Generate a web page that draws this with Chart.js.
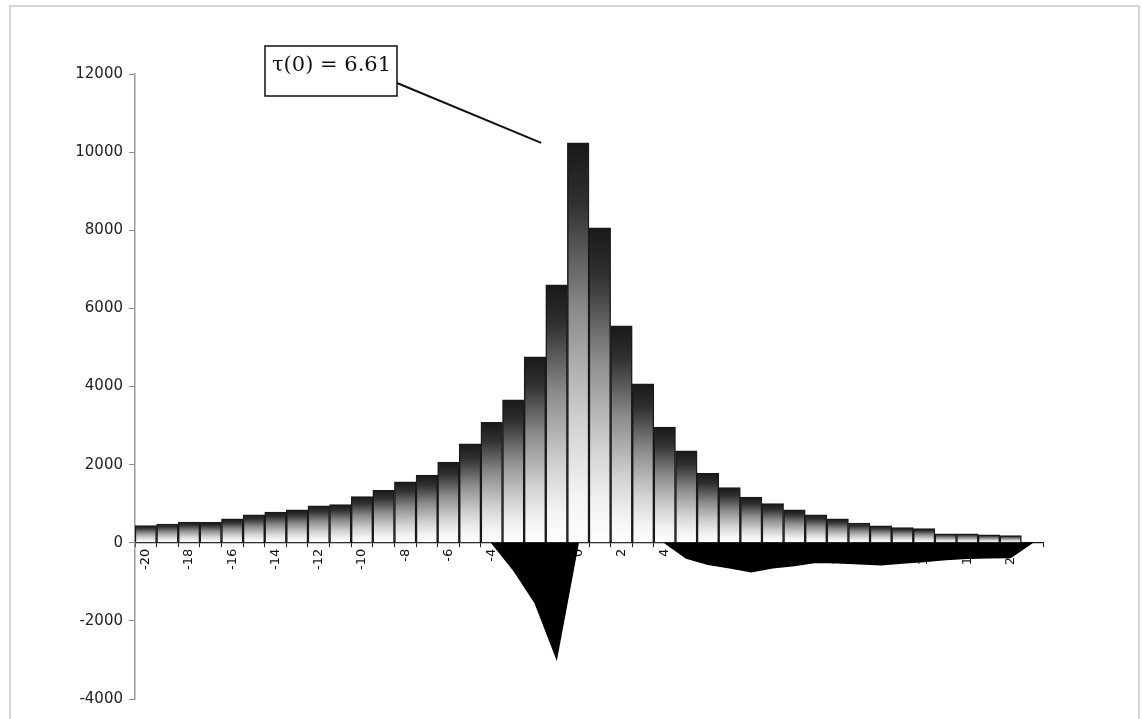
<!DOCTYPE html>
<html>
<head>
<meta charset="utf-8">
<script src="https://cdn.jsdelivr.net/npm/chart.js@4/dist/chart.umd.min.js"></script>
<style>
    body { margin: 0; background: #fff; }
    #frame {
        position: absolute; left: 9px; top: 5px; width: 1127px; height: 730px;
        border-left: 2px solid #d4d4d4; border-top: 2px solid #d4d4d4; border-right: 2px solid #d4d4d4;
    }
    #chart { position: absolute; left: 0; top: 0; }
</style>
</head>
<body>
<div id="frame"></div>
<canvas id="chart" width="1142" height="719"></canvas>
<script>
// Категории (лаг) от -20 до 21
const categories = ['-20','-19','-18','-17','-16','-15','-14','-13','-12','-11','-10','-9','-8','-7','-6','-5','-4','-3','-2','-1',
    '0','1','2','3','4','5','6','7','8','9','10','11','12','13','14','15','16','17','18','19','20','21'];

// Столбцы
const barValues = [440, 480, 530, 520, 610, 715, 785, 840, 945, 980, 1185, 1340, 1560, 1730, 2065, 2530, 3080, 3660, 4760, 6600,
    10235, 8060, 5550, 4070, 2960, 2355, 1775, 1415, 1170, 1000, 845, 715, 615, 505, 435, 390, 360, 230, 230, 205, 185, null];

// Отрицательная область
const areaValues = [null, null, null, null, null, null, null, null, null, null, null, null, null, null, null, null, 0, -690, -1530, -2960,
    0, null, null, null, 0, -390, -550, -640, -740, -640, -580, -500, -510, -540, -560, -520, -480, -430, -400, -385, -380, 0];

const yTicks = [-4000, -2000, 0, 2000, 4000, 6000, 8000, 10000, 12000];

const annotationText = 'τ(0) = 6.61';
const peakIndex = categories.indexOf('0');

// Градиент для каждого столбца
function barGradient(context) {
    const chart = context.chart;
    const y = chart.scales.y;
    if (!chart.chartArea || !y || context.raw == null) return '#888';
    const top = y.getPixelForValue(context.raw);
    const base = y.getPixelForValue(0);
    if (!isFinite(top) || !isFinite(base) || top === base) return '#888';
    const g = chart.ctx.createLinearGradient(0, top, 0, base);
    g.addColorStop(0, '#181818');
    g.addColorStop(0.15, '#303030');
    g.addColorStop(0.42, '#8c8c8c');
    g.addColorStop(0.7, '#d2d2d2');
    g.addColorStop(0.88, '#f3f3f3');
    g.addColorStop(1, '#ffffff');
    return g;
}

const calloutPlugin = {
    id: 'callout',
    afterDraw(chart) {
        const c = chart.ctx;
        const area = chart.chartArea;
        const x = chart.scales.x, y = chart.scales.y;
        const boxLeft = area.left + 130, boxTop = area.top - 28, boxW = 132, boxH = 50;
        const endX = x.getPixelForValue(peakIndex) - 37;
        const endY = y.getPixelForValue(barValues[peakIndex]);
        c.save();
        c.strokeStyle = '#111';
        c.lineWidth = 2;
        c.beginPath();
        c.moveTo(boxLeft + boxW, boxTop + 37);
        c.lineTo(endX, endY);
        c.stroke();
        c.fillStyle = '#fff';
        c.fillRect(boxLeft, boxTop, boxW, boxH);
        c.lineWidth = 1.5;
        c.strokeRect(boxLeft, boxTop, boxW, boxH);
        c.fillStyle = '#111';
        c.font = '21px "DejaVu Serif"';
        c.textBaseline = 'middle';
        c.fillText(annotationText, boxLeft + 7, boxTop + 20);
        c.restore();
    }
};

new Chart(document.getElementById('chart').getContext('2d'), {
    type: 'bar',
    data: {
        labels: categories,
        datasets: [
            {
                type: 'line',
                data: areaValues,
                order: 0,
                fill: 'origin',
                backgroundColor: '#000',
                borderColor: '#000',
                borderWidth: 1.5,
                pointRadius: 0,
                tension: 0,
                spanGaps: false
            },
            {
                type: 'bar',
                data: barValues,
                order: 1,
                backgroundColor: barGradient,
                borderColor: '#1a1a1a',
                borderWidth: 1.5,
                barPercentage: 1,
                categoryPercentage: 1
            }
        ]
    },
    options: {
        responsive: false,
        devicePixelRatio: 1,
        animation: false,
        layout: { padding: { left: 0, top: 74, right: 99, bottom: 20 } },
        plugins: { legend: { display: false }, tooltip: { enabled: false } },
        scales: {
            x: {
                position: { y: 0 },
                grid: { drawOnChartArea: false, drawTicks: true, tickLength: 4, color: '#222', offset: true },
                border: { display: true, color: '#111', width: 1.2 },
                ticks: {
                    autoSkip: false,
                    maxRotation: 90,
                    minRotation: 90,
                    padding: 2,
                    color: '#111',
                    font: { family: 'DejaVu Sans', size: 13 },
                    callback: function(value) {
                        const lbl = categories[value];
                        return Number(lbl) % 2 === 0 && Number(lbl) <= 20 ? lbl : '';
                    }
                }
            },
            y: {
                min: -4000,
                max: 12000,
                afterFit: (scale) => { scale.width = 135; },
                afterBuildTicks: (scale) => { scale.ticks = yTicks.map(v => ({ value: v })); },
                grid: { drawOnChartArea: false, drawTicks: true, tickLength: 6, color: '#888' },
                border: { display: true, color: '#999', width: 1.5 },
                ticks: {
                    padding: 6,
                    color: '#222',
                    font: { family: 'DejaVu Sans', size: 15 },
                    callback: (value) => String(value)
                }
            }
        }
    },
    plugins: [calloutPlugin]
});
</script>
</body>
</html>
